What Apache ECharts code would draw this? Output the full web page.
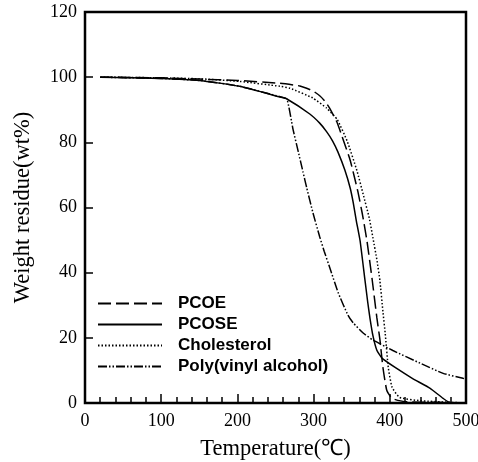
<!DOCTYPE html>
<html>
<head>
<meta charset="utf-8">
<script src="https://cdn.jsdelivr.net/npm/echarts@6/dist/echarts.min.js"></script>
<style>html,body{margin:0;padding:0;background:#fff}#c{width:478px;height:462px}</style>
</head>
<body>
<div id="c"></div>
<script>
var seriesNames = ['PCOE', 'PCOSE', 'Cholesterol', 'Poly(vinyl alcohol)'];
var xTicks = [0, 100, 200, 300, 400, 500];
var yTicks = [0, 20, 40, 60, 80, 100, 120];

var pcoeT = [20, 100, 150, 200, 256, 282, 299, 308, 315, 321, 331, 337, 348, 358, 364, 370, 377, 383, 387, 391, 396, 403, 420, 460, 500];
var pcoeW = [100, 99.8, 99.4, 99, 98.1, 97.3, 95.8, 94.3, 92.6, 90.5, 86, 82, 74.5, 65, 58, 49.8, 37.6, 26.2, 19.5, 10.9, 3.9, 1.4, 0.4, 0.2, 0];

var pcoseT = [20, 100, 150, 203, 256, 265, 295, 308, 317, 325, 332, 341, 348, 352, 356, 361, 367, 371, 374, 378, 383, 390, 409, 430, 453, 470, 480, 500];
var pcoseW = [100, 99.6, 99, 97.2, 93.9, 93.3, 88.7, 85.9, 83.3, 80.4, 77, 71.5, 66, 61.5, 56, 49.8, 38.5, 31, 26, 20.5, 16.2, 13.7, 10.6, 7.5, 4.5, 1.4, 0, 0];

var cholT = [20, 100, 150, 203, 256, 269, 299, 317, 331, 344, 357, 365, 373, 378, 383, 387, 391, 394, 398, 403, 413, 440, 480, 500];
var cholW = [100, 99.8, 99.5, 98.7, 97.2, 96.6, 93.6, 90.5, 87, 80.4, 71.2, 64.1, 56.8, 50.5, 44, 37.6, 28, 21.3, 10.9, 4.8, 1.7, 0.7, 0.2, 0];

var pvaT = [20, 100, 150, 203, 256, 265, 273, 280, 286, 291, 299, 308, 314, 322, 332, 345, 352, 365, 378, 404, 440, 470, 496, 500];
var pvaW = [100, 99.6, 99, 97.2, 94, 93.3, 84, 77, 71, 66, 58.5, 51, 46.5, 41, 34, 27, 24.6, 21.5, 19.3, 16.1, 12.2, 9.1, 7.6, 7.5];

function zip(a, b) { return a.map(function (v, i) { return [v, b[i]]; }); }

var dashTypes = [[13, 5], 'solid', [1.5, 2], [9, 2, 1.5, 2, 1.5, 2]];
var dataSets = [zip(pcoeT, pcoeW), zip(pcoseT, pcoseW), zip(cholT, cholW), zip(pvaT, pvaW)];

var chart = echarts.init(document.getElementById('c'), null, {renderer: 'canvas'});
var serif = '"Liberation Serif", "Times New Roman", serif';
chart.setOption({
  animation: false,
  backgroundColor: '#fff',
  grid: {left: 85, right: 12, top: 12, bottom: 59, outerBoundsMode: 'none', containLabel: false,
    show: true, borderColor: '#000', borderWidth: 2.5, backgroundColor: 'transparent'},
  legend: {
    orient: 'vertical', left: 97, top: 295, padding: 0, itemWidth: 64, itemHeight: 14, itemGap: 4,
    data: seriesNames,
    itemStyle: {color: 'rgba(0,0,0,0)', borderWidth: 0},
    textStyle: {fontFamily: '"Liberation Sans", Arial, sans-serif', fontWeight: 'bold', fontSize: 17, color: '#000', padding: [0, 0, 0, 11]}
  },
  xAxis: {
    type: 'value', min: xTicks[0], max: xTicks[xTicks.length - 1], interval: xTicks[1] - xTicks[0],
    name: 'Temperature(℃)', nameLocation: 'middle', nameGap: 35,
    nameTextStyle: {fontFamily: serif, fontSize: 22.5, color: '#000'},
    axisLine: {show: false},
    axisTick: {show: true, inside: true, length: 9, lineStyle: {color: '#000', width: 1.5}},
    minorTick: {show: true, splitNumber: 5, length: 6, lineStyle: {color: '#000', width: 1.5}},
    axisLabel: {fontFamily: serif, fontSize: 18, color: '#000', margin: 9},
    splitLine: {show: false}
  },
  yAxis: {
    type: 'value', min: yTicks[0], max: yTicks[yTicks.length - 1], interval: yTicks[1] - yTicks[0],
    name: 'Weight residue(wt%)', nameLocation: 'middle', nameGap: 50,
    nameTextStyle: {fontFamily: serif, fontSize: 22.5, color: '#000'},
    axisLine: {show: false},
    axisTick: {show: true, inside: true, length: 8, lineStyle: {color: '#000', width: 1.5}},
    axisLabel: {fontFamily: serif, fontSize: 18, color: '#000', margin: 8},
    splitLine: {show: false}
  },
  series: seriesNames.map(function (n, i) {
    return {
      name: n, type: 'line', data: dataSets[i], smooth: 0.15, showSymbol: false, symbol: 'none',
      itemStyle: {color: 'rgba(0,0,0,0)'},
      lineStyle: {color: '#000', width: 1.5, type: dashTypes[i]},
      z: 3
    };
  })
});
</script>
</body>
</html>
